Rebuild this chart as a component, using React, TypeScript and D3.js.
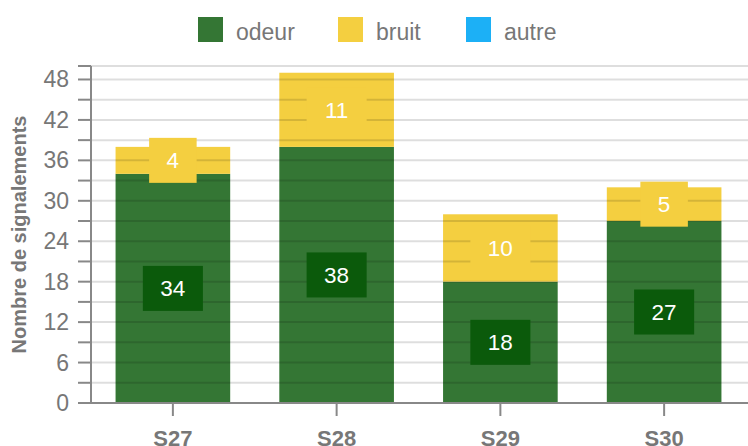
import React from "react";
import * as d3 from "d3";

const categories = ["S27", "S28", "S29", "S30"];
const odeur = [34, 38, 18, 27];
const bruit = [4, 11, 10, 5];
const autre = [0, 0, 0, 0];
const seriesNames = ["odeur", "bruit", "autre"];
const seriesColors = ["#347634", "#f4cf40", "#1cb0f6"];
const labelBoxColors = ["#0b5a0b", "#f4cf40", "#1cb0f6"];
const yMajorTicks = [0, 6, 12, 18, 24, 30, 36, 42, 48];

const W = 748;
const H = 446;
const M = { left: 91, right: 2, top: 66, bottom: 43 };
const FONT = "'Liberation Sans', Arial, sans-serif";

export default function App() {
  const x = d3
    .scaleBand<string>()
    .domain(categories)
    .range([M.left, W - M.right])
    .paddingInner(0.3)
    .paddingOuter(0.15);
  const y = d3.scaleLinear().domain([0, 50]).range([H - M.bottom, M.top]);
  const rows = categories.map((c, i) => ({ cat: c, odeur: odeur[i], bruit: bruit[i], autre: autre[i] }));
  const stacked = d3.stack<any>().keys(seriesNames)(rows);
  const gridVals = d3.range(0, 51, 3).concat([50]);

  const labelFont = 22.5;
  const textW = (s: string) => s.length * 0.556 * labelFont;

  return (
    <svg width={W} height={H} style={{ position: "absolute", left: 0, top: 0, fontFamily: FONT }}>
      {/* legend */}
      {seriesNames.map((n, i) => {
        const lx = [198, 338, 466][i];
        return (
          <g key={n}>
            <rect x={lx} y={17} width={25} height={25} fill={seriesColors[i]} />
            <text x={lx + 38} y={39.5} fontSize={23} fill="#777">{n}</text>
          </g>
        );
      })}
      {/* bars */}
      {stacked.map((s, si) =>
        s.map((d, di) =>
          d[1] - d[0] > 0 ? (
            <rect
              key={si + "-" + di}
              x={x(categories[di])}
              y={y(d[1])}
              width={x.bandwidth()}
              height={y(d[0]) - y(d[1])}
              fill={seriesColors[si]}
            />
          ) : null
        )
      )}
      {/* grid */}
      {gridVals.map((v, i) => (
        <line key={"g" + i} x1={M.left} x2={W} y1={y(v)} y2={y(v)} stroke="rgba(0,0,0,0.13)" strokeWidth={2} />
      ))}
      {/* labels */}
      {stacked.map((s, si) =>
        s.map((d, di) => {
          const v = d[1] - d[0];
          if (v <= 0) return null;
          const cx = x(categories[di])! + x.bandwidth() / 2;
          const cy = y((d[0] + d[1]) / 2);
          const t = String(v);
          const bw = textW(t) + 35;
          return (
            <g key={"l" + si + "-" + di}>
              <rect x={cx - bw / 2} y={cy - 22.5} width={bw} height={45} fill={labelBoxColors[si]} />
              <text x={cx} y={cy + 8} textAnchor="middle" fontSize={labelFont} fill="#fff">{t}</text>
            </g>
          );
        })
      )}
      {/* y axis */}
      <line x1={M.left} x2={M.left} y1={M.top} y2={H - M.bottom} stroke="#888" strokeWidth={2} />
      {gridVals.map((v, i) => (
        <line key={"t" + i} x1={78} x2={M.left} y1={y(v)} y2={y(v)} stroke="#888" strokeWidth={2} />
      ))}
      {yMajorTicks.map((v) => (
        <text key={"yl" + v} x={69} y={y(v) + 8} textAnchor="end" fontSize={23} fill="#777">{v}</text>
      ))}
      <text
        transform={`translate(26, 234.5) rotate(-90)`}
        textAnchor="middle"
        fontSize={20}
        fontWeight="bold"
        fill="#777"
      >
        Nombre de signalements
      </text>
      {/* x axis */}
      <line x1={M.left} x2={W} y1={H - M.bottom} y2={H - M.bottom} stroke="#888" strokeWidth={2} />
      {categories.map((c) => {
        const cx = x(c)! + x.bandwidth() / 2;
        return (
          <g key={"x" + c}>
            <line x1={cx} x2={cx} y1={H - M.bottom} y2={H - M.bottom + 13} stroke="#888" strokeWidth={2} />
            <text x={cx} y={446} textAnchor="middle" fontSize={22} fontWeight="bold" fill="#777">{c}</text>
          </g>
        );
      })}
    </svg>
  );
}
